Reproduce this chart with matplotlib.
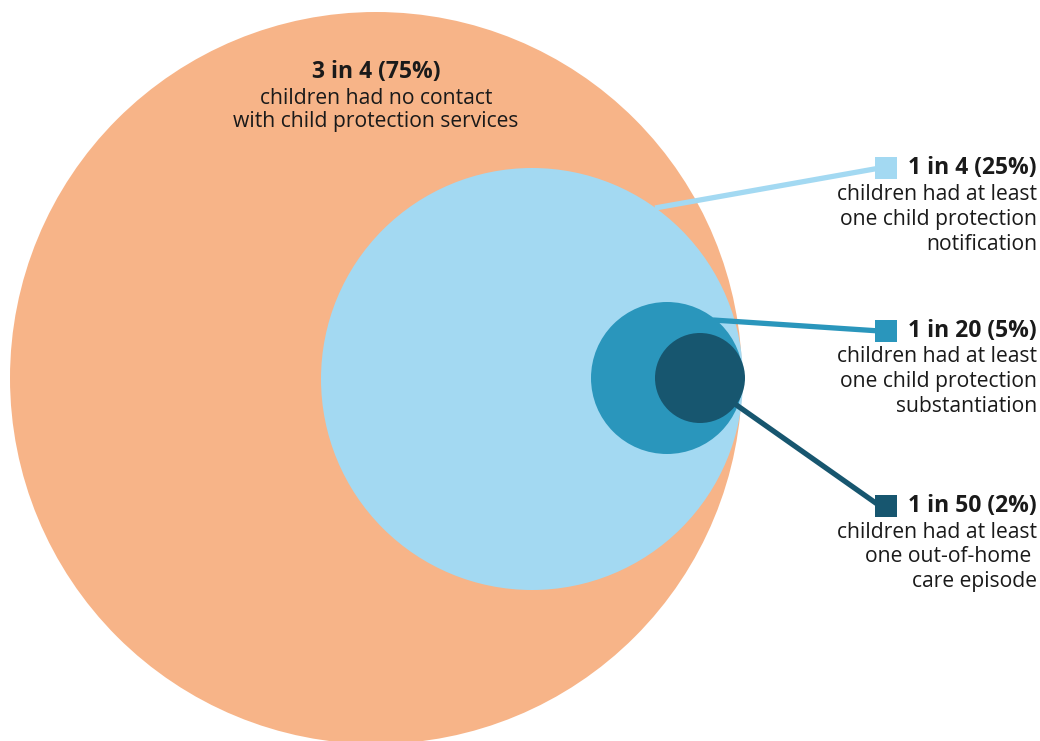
import matplotlib.pyplot as plt
from matplotlib.patches import Circle, Rectangle

plt.rcParams['font.family'] = ['Open Sans', 'DejaVu Sans']

# shares of children, from largest group to smallest
headlines = ["3 in 4 (75%)", "1 in 4 (25%)", "1 in 20 (5%)", "1 in 50 (2%)"]
descriptions = [
    "children had no contact\nwith child protection services",
    "children had at least\none child protection\nnotification",
    "children had at least\none child protection\nsubstantiation",
    "children had at least\none out-of-home \ncare episode",
]
colors = ["#F7B488", "#A3D9F2", "#2A96BC", "#17566F"]

# layout (pixels)
centers = [(376, 378), (532, 379), (667, 378), (700, 378)]
radii = [366, 211, 76, 45]
line_starts = [None, (655, 208), (713, 320), (735, 404)]
label_y = [None, 168, 331, 506]
text_color = "#1a1a1a"
bold_size = 16.5
body_size = 15.2

fig = plt.figure(figsize=(10.4, 7.41), dpi=100)
ax = fig.add_axes([0, 0, 1, 1])
ax.set_xlim(0, 1040)
ax.set_ylim(741, 0)
ax.set_aspect("equal")
ax.axis("off")

for i, (c, r, col) in enumerate(zip(centers, radii, colors)):
    ax.add_patch(Circle(c, r, facecolor=col, edgecolor="none", zorder=2 * i + 1))


def label(x, y, ha, head, desc, step):
    ax.text(x, y, head, ha=ha, va="center", fontsize=bold_size,
            fontweight="bold", color=text_color, zorder=10)
    for k, line in enumerate(desc.split("\n")):
        ax.text(x, y + 26 + k * step, line, ha=ha, va="center",
                fontsize=body_size, color=text_color, zorder=10)


# centre label on big circle
label(376, 72, "center", headlines[0], descriptions[0], 24)

for i in range(1, 4):
    y = label_y[i]
    x0, y0 = line_starts[i]
    ax.plot([x0, 880], [y0, y], color=colors[i], lw=3.8, solid_capstyle="butt",
            zorder=2 * i)
    ax.add_patch(Rectangle((875, y - 11), 22, 22, facecolor=colors[i],
                           edgecolor="none", zorder=10))
    label(1037, y, "right", headlines[i], descriptions[i], 25)

fig.savefig("out.png", dpi=100)
